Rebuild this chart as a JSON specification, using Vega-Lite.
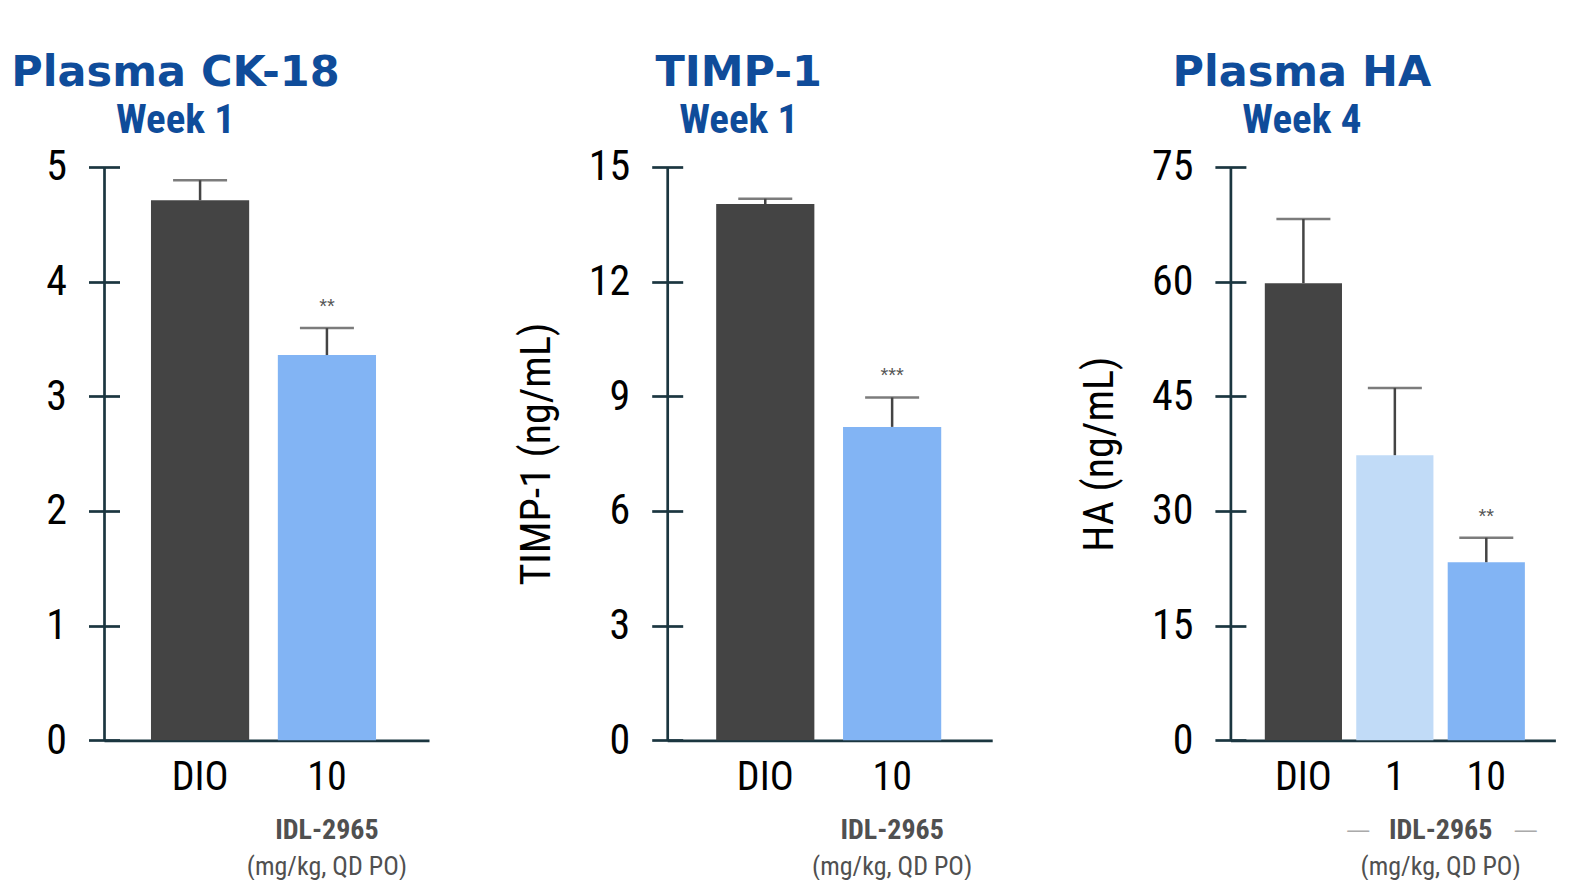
{
  "$schema": "https://vega.github.io/schema/vega-lite/v6.json",
  "background": "white",
  "padding": {"left": 11, "top": 52, "right": 0, "bottom": 0},
  "bounds": "flush",
  "spacing": 238.2,
  "config": {
    "view": {"stroke": null},
    "axis": {
      "grid": false,
      "zindex": 1,
      "domainColor": "#1b3640",
      "domainWidth": 2.7,
      "tickColor": "#1b3640",
      "tickWidth": 2.7,
      "labelFont": "Roboto Condensed",
      "labelColor": "#000000",
      "titleFont": "Roboto Condensed",
      "titleFontWeight": "normal",
      "titleColor": "#000000"
    },
    "axisY": {"tickSize": 15.5, "labelPadding": 22, "labelFontSize": 42, "titleFontSize": 42, "titlePadding": 30, "labelOverlap": false, "format": "d"},
    "axisX": {"ticks": false, "labelFontSize": 40, "labelPadding": 17, "labelAngle": 0},
    "title": {
      "font": "DejaVu Sans",
      "fontWeight": "bold",
      "fontSize": 43,
      "color": "#0f4c9a",
      "subtitleFont": "Roboto Condensed",
      "subtitleFontWeight": "bold",
      "subtitleFontSize": 41,
      "subtitleColor": "#0f4c9a",
      "subtitlePadding": 6,
      "anchor": "middle",
      "frame": "group",
      "offset": 5,
      "dx": -91
    }
  },
  "hconcat": [
    {
      "width": 325,
      "height": 573.3,
      "title": {"text": "Plasma CK-18", "subtitle": "Week 1"},
      "data": {"values": [
        {"group": "DIO", "mean": 4.71, "upper": 4.885, "sig": ""},
        {"group": "10", "mean": 3.36, "upper": 3.595, "sig": "**"}
      ]},
      "encoding": {
        "x": {"field": "group", "type": "nominal", "sort": null,
              "scale": {"domain": ["DIO", "10"], "paddingInner": 0.226, "paddingOuter": 0.394, "align": 0.47},
              "axis": {"title": null}}
      },
      "layer": [
        {
          "mark": {"type": "bar"},
          "encoding": {
            "y": {"field": "mean", "type": "quantitative", "scale": {"domain": [0, 5], "nice": false},
                  "axis": {"title": null, "values": [0, 1, 2, 3, 4, 5], "encoding": {"ticks": {"x": {"value": 15.5}}}}},
            "color": {"field": "group", "type": "nominal", "legend": null,
                      "scale": {"domain": ["DIO", "1", "10"], "range": ["#444444", "#c1dbf7", "#82b4f4"]}}
          }
        },
        {
          "mark": {"type": "rule", "color": "#444444", "strokeWidth": 2.5},
          "encoding": {"y": {"field": "mean", "type": "quantitative"}, "y2": {"field": "upper"}}
        },
        {
          "mark": {"type": "tick", "orient": "horizontal", "color": "#444444", "size": 54, "thickness": 2.5},
          "encoding": {"y": {"field": "upper", "type": "quantitative"}}
        },
        {
          "mark": {"type": "text", "dy": -21, "baseline": "middle", "font": "Liberation Sans", "fontSize": 20, "color": "#555555"},
          "encoding": {"y": {"field": "upper", "type": "quantitative"}, "text": {"field": "sig"}}
        },
        {
          "data": {"values": [{"label": "IDL-2965"}]},
          "mark": {"type": "text", "dy": 99, "baseline": "alphabetic", "font": "Roboto Condensed", "fontWeight": "bold", "fontSize": 28, "color": "#505050"},
          "encoding": {"x": {"datum": "10"}, "y": {"datum": 0}, "text": {"field": "label"}}
        },
        {
          "data": {"values": [{"label": "(mg/kg, QD PO)"}]},
          "mark": {"type": "text", "dy": 134.5, "baseline": "alphabetic", "font": "Roboto Condensed", "fontSize": 26, "color": "#505050"},
          "encoding": {"x": {"datum": "10"}, "y": {"datum": 0}, "text": {"field": "label"}}
        }
      ]
    },
    {
      "width": 325,
      "height": 573.3,
      "title": {"text": "TIMP-1", "subtitle": "Week 1"},
      "data": {"values": [
        {"group": "DIO", "mean": 14.03, "upper": 14.17, "sig": ""},
        {"group": "10", "mean": 8.2, "upper": 8.97, "sig": "***"}
      ]},
      "encoding": {
        "x": {"field": "group", "type": "nominal", "sort": null,
              "scale": {"domain": ["DIO", "10"], "paddingInner": 0.226, "paddingOuter": 0.394, "align": 0.49},
              "axis": {"title": null}}
      },
      "layer": [
        {
          "mark": {"type": "bar"},
          "encoding": {
            "y": {"field": "mean", "type": "quantitative", "scale": {"domain": [0, 15], "nice": false},
                  "axis": {"title": "TIMP-1 (ng/mL)", "values": [0, 3, 6, 9, 12, 15], "encoding": {"ticks": {"x": {"value": 15.5}}}}},
            "color": {"field": "group", "type": "nominal", "legend": null,
                      "scale": {"domain": ["DIO", "1", "10"], "range": ["#444444", "#c1dbf7", "#82b4f4"]}}
          }
        },
        {
          "mark": {"type": "rule", "color": "#444444", "strokeWidth": 2.5},
          "encoding": {"y": {"field": "mean", "type": "quantitative"}, "y2": {"field": "upper"}}
        },
        {
          "mark": {"type": "tick", "orient": "horizontal", "color": "#444444", "size": 54, "thickness": 2.5},
          "encoding": {"y": {"field": "upper", "type": "quantitative"}}
        },
        {
          "mark": {"type": "text", "dy": -21, "baseline": "middle", "font": "Liberation Sans", "fontSize": 20, "color": "#555555"},
          "encoding": {"y": {"field": "upper", "type": "quantitative"}, "text": {"field": "sig"}}
        },
        {
          "data": {"values": [{"label": "IDL-2965"}]},
          "mark": {"type": "text", "dy": 99, "baseline": "alphabetic", "font": "Roboto Condensed", "fontWeight": "bold", "fontSize": 28, "color": "#505050"},
          "encoding": {"x": {"datum": "10"}, "y": {"datum": 0}, "text": {"field": "label"}}
        },
        {
          "data": {"values": [{"label": "(mg/kg, QD PO)"}]},
          "mark": {"type": "text", "dy": 134.5, "baseline": "alphabetic", "font": "Roboto Condensed", "fontSize": 26, "color": "#505050"},
          "encoding": {"x": {"datum": "10"}, "y": {"datum": 0}, "text": {"field": "label"}}
        }
      ]
    },
    {
      "width": 325,
      "height": 573.3,
      "title": {"text": "Plasma HA", "subtitle": "Week 4"},
      "data": {"values": [
        {"group": "DIO", "mean": 59.8, "upper": 68.2, "sig": ""},
        {"group": "1", "mean": 37.3, "upper": 46.1, "sig": ""},
        {"group": "10", "mean": 23.3, "upper": 26.5, "sig": "**"}
      ]},
      "encoding": {
        "x": {"field": "group", "type": "nominal", "sort": null,
              "scale": {"domain": ["DIO", "1", "10"], "paddingInner": 0.156, "paddingOuter": 0.355, "align": 0.53},
              "axis": {"title": null}}
      },
      "layer": [
        {
          "mark": {"type": "bar"},
          "encoding": {
            "y": {"field": "mean", "type": "quantitative", "scale": {"domain": [0, 75], "nice": false},
                  "axis": {"title": "HA (ng/mL)", "values": [0, 15, 30, 45, 60, 75], "encoding": {"ticks": {"x": {"value": 15.5}}}}},
            "color": {"field": "group", "type": "nominal", "legend": null,
                      "scale": {"domain": ["DIO", "1", "10"], "range": ["#444444", "#c1dbf7", "#82b4f4"]}}
          }
        },
        {
          "mark": {"type": "rule", "color": "#444444", "strokeWidth": 2.5},
          "encoding": {"y": {"field": "mean", "type": "quantitative"}, "y2": {"field": "upper"}}
        },
        {
          "mark": {"type": "tick", "orient": "horizontal", "color": "#444444", "size": 54, "thickness": 2.5},
          "encoding": {"y": {"field": "upper", "type": "quantitative"}}
        },
        {
          "mark": {"type": "text", "dy": -21, "baseline": "middle", "font": "Liberation Sans", "fontSize": 20, "color": "#555555"},
          "encoding": {"y": {"field": "upper", "type": "quantitative"}, "text": {"field": "sig"}}
        },
        {
          "data": {"values": [{"label": "IDL-2965"}]},
          "mark": {"type": "text", "dy": 99, "dx": 45.8, "baseline": "alphabetic", "font": "Roboto Condensed", "fontWeight": "bold", "fontSize": 28, "color": "#505050"},
          "encoding": {"x": {"datum": "1"}, "y": {"datum": 0}, "text": {"field": "label"}}
        },
        {
          "data": {"values": [{"label": "—"}]},
          "mark": {"type": "text", "dy": 97, "dx": -36.6, "baseline": "alphabetic", "font": "Liberation Sans", "fontSize": 22, "color": "#aaaaaa"},
          "encoding": {"x": {"datum": "1"}, "y": {"datum": 0}, "text": {"field": "label"}}
        },
        {
          "data": {"values": [{"label": "—"}]},
          "mark": {"type": "text", "dy": 97, "dx": 130.8, "baseline": "alphabetic", "font": "Liberation Sans", "fontSize": 22, "color": "#aaaaaa"},
          "encoding": {"x": {"datum": "1"}, "y": {"datum": 0}, "text": {"field": "label"}}
        },
        {
          "data": {"values": [{"label": "(mg/kg, QD PO)"}]},
          "mark": {"type": "text", "dy": 134.5, "dx": 45.8, "baseline": "alphabetic", "font": "Roboto Condensed", "fontSize": 26, "color": "#505050"},
          "encoding": {"x": {"datum": "1"}, "y": {"datum": 0}, "text": {"field": "label"}}
        }
      ]
    }
  ]
}
